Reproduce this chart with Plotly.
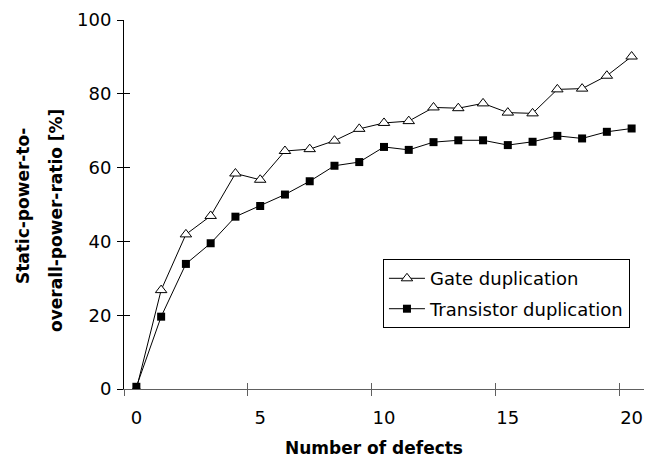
import plotly.graph_objects as go

defects = list(range(21))
gate_dup = [0, 26.8, 41.9, 46.9, 58.4, 56.7, 64.5, 65.0, 67.3, 70.5, 72.1,
            72.6, 76.3, 76.1, 77.4, 74.9, 74.7, 81.2, 81.4, 84.9, 90.1]
trans_dup = [0.6, 19.6, 33.9, 39.5, 46.7, 49.6, 52.7, 56.3, 60.5, 61.5, 65.6,
             64.8, 66.9, 67.4, 67.4, 66.1, 67.0, 68.6, 67.9, 69.7, 70.6]
x_tick_vals = [0, 5, 10, 15, 20]
x_tick_text = ["0", "5", "10", "15", "20"]
x_tick_marks = [-0.5, 4.5, 9.5, 14.5, 19.5]
y_tick_vals = [0, 20, 40, 60, 80, 100]

FONT = "DejaVu Sans, Liberation Sans, Arial, sans-serif"
XR = [-0.5, 20.5]
YR = [0, 100]
XCOL = "#606060"

fig = go.Figure()
fig.add_trace(go.Scatter(
    x=defects, y=gate_dup, name="Gate duplication", mode="lines+markers",
    line=dict(color="black", width=1),
    marker=dict(symbol="triangle-up", size=10, color="white",
                line=dict(color="black", width=1)),
    legendgroup="g1"))
fig.add_trace(go.Scatter(
    x=defects, y=trans_dup, name="Transistor duplication", mode="lines+markers",
    line=dict(color="black", width=1),
    marker=dict(symbol="square", size=8, color="black",
                line=dict(color="black", width=0)),
    legendgroup="g2"))
# empty helper traces so the tick-only overlay axes are drawn
for xa, ya in [("x2", "y"), ("x3", "y"), ("x", "y2")]:
    fig.add_trace(go.Scatter(x=[None], y=[None], xaxis=xa, yaxis=ya,
                             mode="lines", showlegend=False, hoverinfo="skip"))

tick_common = dict(showgrid=False, zeroline=False, showline=False,
                   automargin=False, tickwidth=1,
                   ticklen=6, showticklabels=False)

# page has an 8px body margin, so the figure is 8px smaller than the window
fig.update_layout(
    width=645, height=449,
    margin=dict(l=116, r=9, t=12, b=68, autoexpand=False),
    paper_bgcolor="white", plot_bgcolor="white",
    font=dict(family=FONT, size=18, color="black"),
    showlegend=True,
    legend=dict(x=0.498, y=0.352, xanchor="left", yanchor="top",
                bordercolor="black", borderwidth=1, bgcolor="white",
                font=dict(family=FONT, size=18, color="black"),
                tracegroupgap=4, itemwidth=36),
    xaxis=dict(range=XR, showgrid=False, zeroline=False, automargin=False,
               showline=True, linecolor=XCOL, linewidth=1, layer="below traces",
               tickmode="array", tickvals=x_tick_vals, ticktext=x_tick_text,
               ticks="", ticklabelstandoff=12),
    xaxis2=dict(range=XR, overlaying="x", anchor="y", side="bottom",
                tickmode="array", tickvals=x_tick_marks, ticks="outside",
                tickcolor=XCOL, **tick_common),
    xaxis3=dict(range=XR, overlaying="x", anchor="y", side="bottom",
                tickmode="array", tickvals=x_tick_marks, ticks="inside",
                tickcolor=XCOL, **tick_common),
    yaxis=dict(range=YR, showgrid=False, zeroline=False, automargin=False,
               showline=True, linecolor="black", linewidth=1,
               layer="below traces",
               tickmode="array", tickvals=y_tick_vals,
               ticks="outside", ticklen=6, tickcolor="black", tickwidth=1,
               ticklabelstandoff=2),
    yaxis2=dict(range=YR, overlaying="y", anchor="x", side="left",
                tickmode="array", tickvals=y_tick_vals, ticks="inside",
                tickcolor="black", **tick_common),
    annotations=[
        dict(text="<b>Number of defects</b>", xref="paper", yref="paper",
             x=0.481, y=-0.16, xanchor="center", yanchor="middle",
             showarrow=False, font=dict(family=FONT, size=17, color="black")),
        dict(text="<b>Static-power-to-</b>", xref="paper", yref="paper",
             x=-0.194, y=0.496, xanchor="center", yanchor="middle",
             textangle=-90, showarrow=False,
             font=dict(family=FONT, size=17, color="black")),
        dict(text="<b>overall-power-ratio [%]</b>", xref="paper", yref="paper",
             x=-0.1308, y=0.458, xanchor="center", yanchor="middle",
             textangle=-90, showarrow=False,
             font=dict(family=FONT, size=17, color="black")),
    ],
)

fig.write_html("out.html")
